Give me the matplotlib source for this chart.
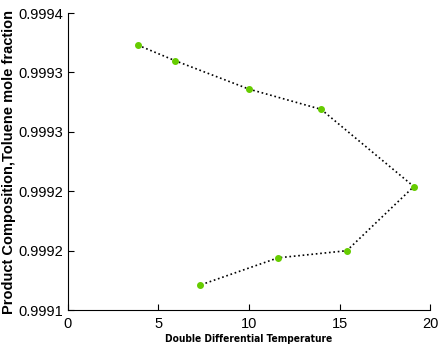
import matplotlib.pyplot as plt

# values
ddt = [3.87, 5.91, 10.0, 13.98, 19.1, 15.4, 11.6, 7.29]
toluene = [0.999373, 0.999360, 0.999336, 0.999319, 0.999254, 0.999200, 0.999194, 0.999171]

yticks = [0.99915, 0.99920, 0.99925, 0.99930, 0.99935, 0.99940]
ytick_labels = ['0.9991', '0.9992', '0.9992', '0.9993', '0.9993', '0.9994']
xticks = [0, 5, 10, 15, 20]

plt.rcParams['font.family'] = ['Liberation Sans', 'DejaVu Sans']

fig = plt.figure(figsize=(4.38, 3.54), dpi=100)
ax = fig.add_axes([0.155, 0.124, 0.827, 0.839])

ax.plot(ddt, toluene, linestyle=':', color='black', linewidth=1.2,
        marker='o', markersize=4, markerfacecolor='#66cc00', markeredgecolor='#66cc00')

ax.set_xlim(0, 20)
ax.set_ylim(0.99915, 0.99940)
ax.set_xticks(xticks)
ax.set_yticks(yticks)
ax.set_yticklabels(ytick_labels)

ax.spines['top'].set_visible(False)
ax.spines['right'].set_visible(False)
ax.tick_params(direction='in', length=4, labelsize=10.5, width=0.8)
ax.tick_params(axis='x', pad=5)

ax.set_xlabel('Double Differential Temperature', fontsize=7.3, fontweight='bold',
              family='DejaVu Sans', fontstretch='condensed', labelpad=2)
ax.set_ylabel('Product Composition,Toluene mole fraction', fontsize=10.5, fontweight='bold')
ax.yaxis.set_label_coords(-0.143, 0.5)

fig.savefig('out.png', dpi=100)
